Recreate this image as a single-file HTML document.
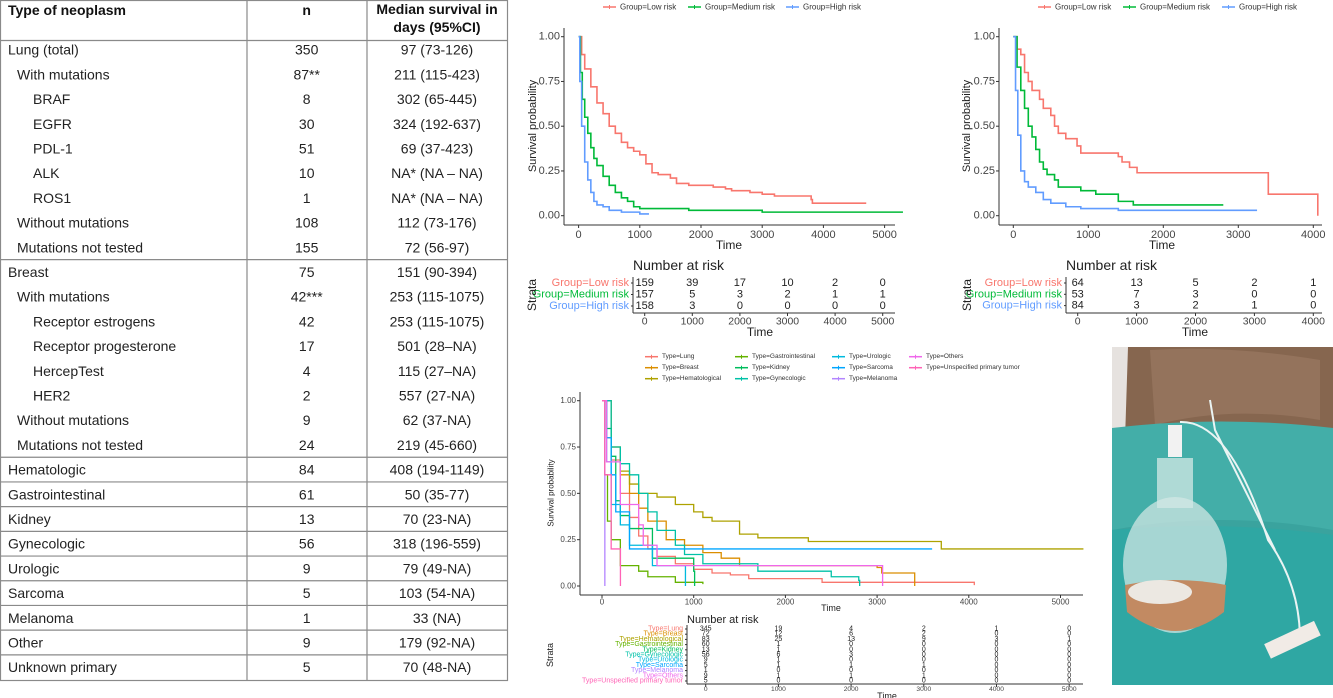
<!DOCTYPE html>
<html><head><meta charset="utf-8"><style>
html,body{margin:0;padding:0;background:#fff;}
svg{display:block;font-family:"Liberation Sans",Arial,sans-serif;}
</style></head><body>
<svg id="root" width="1333" height="698" viewBox="0 0 1333 698">
<g id="tbl"></g>
<g id="c1"></g>
<g id="c2"></g>
<g id="c3"></g>
<g id="photo">
  <rect x="1112" y="347" width="221" height="338" fill="#3aa39e"/>
  <rect x="1112" y="347" width="221" height="85" fill="#86664f"/>
  <path d="M1150 350 Q1230 345 1320 360 L1320 420 Q1230 405 1155 425 Z" fill="#94735c"/>
  <path d="M1112 347 L1128 347 L1125 440 L1112 445 Z" fill="#e6e2df"/>
  <path d="M1112 428 Q1220 415 1333 428 L1333 530 Q1220 510 1112 530 Z" fill="#43aea8"/>
  <path d="M1112 530 Q1220 520 1333 535 L1333 685 L1112 685 Z" fill="#2fa7a3"/>
  <ellipse cx="1175" cy="565" rx="52" ry="68" fill="#cfe6e3" opacity="0.75"/>
  <rect x="1157" y="458" width="36" height="50" fill="#d3e8e5" opacity="0.75"/>
  <rect x="1168" y="425" width="14" height="32" fill="#f2f2f2"/>
  <path d="M1125 585 Q1175 575 1226 585 L1224 612 Q1175 650 1127 612 Z" fill="#c28a62"/>
  <ellipse cx="1160" cy="592" rx="32" ry="12" fill="#ece8e2"/>
  <path d="M1180 422 Q1230 420 1268 540 Q1300 585 1300 640" stroke="#eaf4f3" stroke-width="2" fill="none"/>
  <path d="M1210 400 L1215 430 Q1240 480 1275 550" stroke="#eaf4f3" stroke-width="2" fill="none"/>
  <rect x="1265" y="632" width="55" height="16" fill="#f1ebe6" transform="rotate(-25 1292 640)"/>
</g>
</svg>
<script>
// ---------- TABLE DATA ----------
const tblNames=["Lung (total)","With mutations","BRAF","EGFR","PDL-1","ALK","ROS1","Without mutations","Mutations not tested","Breast","With mutations","Receptor estrogens","Receptor progesterone","HercepTest","HER2","Without mutations","Mutations not tested","Hematologic","Gastrointestinal","Kidney","Gynecologic","Urologic","Sarcoma","Melanoma","Other","Unknown primary"];
const tblLevels=[0,1,2,2,2,2,2,1,1,0,1,2,2,2,2,1,1,0,0,0,0,0,0,0,0,0];
const tblN=["350","87**","8","30","51","10","1","108","155","75","42***","42","17","4","2","9","24","84","61","13","56","9","5","1","9","5"];
const tblMed=["97 (73-126)","211 (115-423)","302 (65-445)","324 (192-637)","69 (37-423)","NA* (NA – NA)","NA* (NA – NA)","112 (73-176)","72 (56-97)","151 (90-394)","253 (115-1075)","253 (115-1075)","501 (28–NA)","115 (27–NA)","557 (27-NA)","62 (37-NA)","219 (45-660)","408 (194-1149)","50 (35-77)","70 (23-NA)","318 (196-559)","79 (49-NA)","103 (54-NA)","33 (NA)","179 (92-NA)","70 (48-NA)"];

// ---------- CHART 1 DATA ----------
const c1Groups=["Group=Low risk","Group=Medium risk","Group=High risk"];
const c1LowT=[0,50,100,200,300,400,500,600,700,800,900,1000,1100,1200,1300,1500,1600,1800,2200,2400,2500,2800,3000,3200,3800,3820,4700];
const c1LowS=[1,0.9,0.82,0.72,0.63,0.57,0.5,0.46,0.41,0.38,0.36,0.34,0.29,0.24,0.23,0.21,0.18,0.17,0.16,0.15,0.14,0.13,0.12,0.11,0.09,0.07,0.07];
const c1MedT=[0,30,60,100,150,200,250,300,400,500,600,700,800,900,1000,1800,3000,5300];
const c1MedS=[1,0.8,0.65,0.55,0.46,0.38,0.32,0.28,0.22,0.17,0.13,0.1,0.08,0.05,0.04,0.03,0.02,0.02];
const c1HighT=[0,20,50,100,150,200,250,300,400,500,700,1000,1150];
const c1HighS=[1,0.75,0.5,0.3,0.2,0.13,0.08,0.06,0.05,0.03,0.02,0.01,0.01];
const c1Ticks=[0,1000,2000,3000,4000,5000];
const c1RiskLow=[159,39,17,10,2,0];
const c1RiskMed=[157,5,3,2,1,1];
const c1RiskHigh=[158,3,0,0,0,0];

// ---------- CHART 2 DATA ----------
const c2LowT=[0,50,100,150,200,250,350,400,500,550,600,700,850,900,1400,1450,1550,1650,3400,4050,4060];
const c2LowS=[1,0.93,0.9,0.8,0.75,0.7,0.65,0.6,0.56,0.5,0.46,0.43,0.39,0.35,0.33,0.3,0.27,0.24,0.12,0.12,0];
const c2MedT=[0,50,100,150,200,250,300,350,400,450,550,600,900,1100,1400,1600,2800];
const c2MedS=[1,0.83,0.7,0.6,0.5,0.44,0.37,0.3,0.26,0.23,0.2,0.16,0.14,0.12,0.08,0.06,0.06];
const c2HighT=[0,30,60,100,150,200,300,400,500,700,900,1400,3250];
const c2HighS=[1,0.7,0.45,0.25,0.19,0.16,0.13,0.09,0.07,0.05,0.04,0.03,0.03];
const c2Ticks=[0,1000,2000,3000,4000];
const c2RiskLow=[64,13,5,2,1];
const c2RiskMed=[53,7,3,0,0];
const c2RiskHigh=[84,3,2,1,0];

// ---------- CHART 3 DATA ----------
const c3Types=["Type=Lung","Type=Breast","Type=Hematological","Type=Gastrointestinal","Type=Kidney","Type=Gynecologic","Type=Urologic","Type=Sarcoma","Type=Melanoma","Type=Others","Type=Unspecified primary tumor"];
const c3LungT=[0,50,100,200,300,400,500,600,800,1000,1200,1400,1600,2400,4050,4060];
const c3LungS=[1,0.8,0.68,0.5,0.37,0.27,0.2,0.16,0.12,0.09,0.07,0.06,0.04,0.02,0.02,0.005];
const c3BreastT=[0,100,200,300,400,500,700,900,1100,1300,1500,3000,3050,3400,3410];
const c3BreastS=[1,0.75,0.6,0.5,0.42,0.35,0.25,0.22,0.18,0.15,0.11,0.1,0.07,0.07,0];
const c3HemT=[0,100,200,300,400,600,800,1000,1100,1200,1500,1700,2250,3700,5250];
const c3HemS=[1,0.75,0.62,0.55,0.5,0.48,0.44,0.4,0.37,0.35,0.28,0.26,0.24,0.2,0.2];
const c3GastroT=[0,30,60,100,200,400,500,800,1100];
const c3GastroS=[1,0.6,0.35,0.25,0.11,0.08,0.05,0.02,0.01];
const c3KidneyT=[0,50,100,150,200,300,550,1000,1010];
const c3KidneyS=[1,0.85,0.7,0.46,0.38,0.31,0.15,0.08,0];
const c3GynT=[0,100,200,300,400,500,600,800,900,1100,1700,2500,2800,2810];
const c3GynS=[1,0.75,0.66,0.6,0.5,0.4,0.3,0.22,0.17,0.12,0.08,0.05,0.03,0];
const c3UroT=[0,50,100,200,300,550,900,910];
const c3UroS=[1,0.67,0.44,0.33,0.22,0.11,0.11,0];
const c3SarcT=[0,50,100,150,300,3600];
const c3SarcS=[1,0.8,0.6,0.4,0.2,0.2];
const c3MelT=[0,30,31];
const c3MelS=[1,1,0];
const c3OthT=[0,50,200,400,450,600,3050,3060];
const c3OthS=[1,0.67,0.44,0.33,0.22,0.11,0.11,0];
const c3UnspT=[0,30,100,200,201];
const c3UnspS=[1,0.6,0.2,0.2,0];
const c3Ticks=[0,1000,2000,3000,4000,5000];
const c3Risk=[[345,19,4,2,1,0],[72,12,6,2,0,0],[83,25,13,9,3,1],[60,1,0,0,0,0],[13,1,0,0,0,0],[56,6,3,0,0,0],[9,1,0,0,0,0],[5,1,1,1,0,0],[1,0,0,0,0,0],[9,1,1,1,0,0],[5,0,0,0,0,0]];

const NS="http://www.w3.org/2000/svg";
function el(tag,attrs,parent){const e=document.createElementNS(NS,tag);for(const k in attrs)e.setAttribute(k,attrs[k]);parent.appendChild(e);return e;}
function txt(s,x,y,size,parent,anchor,fill,weight){const t=el("text",{x:x,y:y,"font-size":size,"text-anchor":anchor||"start",fill:fill||"#222","dominant-baseline":"central"},parent);if(weight)t.setAttribute("font-weight",weight);t.textContent=s;return t;}

// ---------- TABLE ----------
(function(){
 const g=document.getElementById("tbl");
 const top=49.7, step=24.7, lc="#8a8a8a";
 const b=el("rect",{x:0.5,y:0.5,width:507,height:680,fill:"none",stroke:lc,"stroke-width":1.2},g);
 
 
 el("line",{x1:247,y1:0,x2:247,y2:680,stroke:lc,"stroke-width":1.2},g);
 el("line",{x1:367,y1:0,x2:367,y2:680,stroke:lc,"stroke-width":1.2},g);
 el("line",{x1:0,y1:40.5,x2:507,y2:40.5,stroke:lc,"stroke-width":1.2},g);
 let h=txt("Type of neoplasm",8,10,14,g,"start","#111","bold");
 
 
 h=txt("n",306.7,10,14,g,"middle","#111","bold");
 
 
 h=txt("Median survival in",437,9,14,g,"middle","#111","bold");
 
 
 txt("days (95%CI)",437,27,14,g,"middle","#111","bold");
 const indents=[8,17,33];
 const sepAfter=[8,16,17,18,19,20,21,22,23,24];
 for(let i=0;i<tblNames.length;i++){
  const y=top+i*step;
  const t=txt(tblNames[i],indents[tblLevels[i]],y,14,g);
  
  
  const n=txt(tblN[i],306.7,y,14,g,"middle");
  
  
  const m=txt(tblMed[i],437,y,14,g,"middle");
  
  
  if(sepAfter.indexOf(i)>=0){const yy=y+step/2;el("line",{x1:0,y1:yy,x2:507,y2:yy,stroke:lc,"stroke-width":1.2},g);}
 }
})();

// ---------- KM generic ----------
function stepPath(T,S,sx,sy){let d="M"+sx(T[0])+" "+sy(S[0]);for(let i=1;i<T.length;i++){d+=" H"+sx(T[i])+" V"+sy(S[i]);}return d;}

function drawKM(g,c,series,names,colors,ticks,risks){
 const sx=t=>c.x0+t*c.px, sy=s=>c.y0-s*(c.y0-c.y1);
 el("line",{x1:c.ax,y1:c.axTop,x2:c.ax,y2:c.axB,stroke:"#333","stroke-width":1},g);
 el("line",{x1:c.ax,y1:c.axB,x2:c.right,y2:c.axB,stroke:"#333","stroke-width":1},g);
 [0,0.25,0.5,0.75,1].forEach(v=>{
  el("line",{x1:c.ax-3,y1:sy(v),x2:c.ax,y2:sy(v),stroke:"#333"},g);
  const t=txt(v.toFixed(2),c.ax-4,sy(v),c.fs,g,"end","#444");
  
  
 });
 ticks.forEach(v=>{
  el("line",{x1:sx(v),y1:c.axB,x2:sx(v),y2:c.axB+3,stroke:"#333"},g);
  const t=txt(String(v),sx(v),c.axB+c.fs*0.9,c.fs,g,"middle","#444");
  
  
 });
 let t=txt("Time",c.timeX,c.timeY,c.fs+1,g,"middle","#222");
 
 
 t=txt("Survival probability",0,0,c.fs,g,"middle","#222");
 t.setAttribute("transform","translate("+c.ytX+","+c.ytY+") rotate(-90)");
 
 
 series.forEach((s,i)=>{
  const p=el("path",{d:stepPath(s[0],s[1],sx,sy),fill:"none",stroke:colors[i],"stroke-width":c.lw},g);
  
  
 });
 const rx=t=>c.rx0+t*c.rpx;
 t=txt("Number at risk",c.rax,c.rtY,c.rtfs,g,"start","#222");
 
 
 el("line",{x1:c.rax,y1:c.rTop,x2:c.rax,y2:c.rB,stroke:"#333"},g);
 el("line",{x1:c.rax,y1:c.rB,x2:c.right,y2:c.rB,stroke:"#333"},g);
 risks.forEach((row,i)=>{
  const y=c.rRow0+i*c.rStep;
  const l=txt(names[i],c.rax-4,y,c.rfs,g,"end",colors[i]);
  
  
  el("line",{x1:c.rax-2,y1:y,x2:c.rax,y2:y,stroke:"#333"},g);
  row.forEach((v,j)=>{
   const n=txt(String(v),rx(ticks[j]),y,c.rnfs,g,"middle","#222");
   
   
  });
 });
 ticks.forEach(v=>{
  el("line",{x1:rx(v),y1:c.rB,x2:rx(v),y2:c.rB+3,stroke:"#333"},g);
  const q=txt(String(v),rx(v),c.rB+c.rnfs*0.8,c.rnfs*0.95,g,"middle","#444");
  
  
 });
 t=txt("Time",c.rTimeX,c.rTimeY,c.fs+1,g,"middle","#222");
 
 
 t=txt("Strata",0,0,c.fs+1,g,"middle","#222");
 t.setAttribute("transform","translate("+c.stX+","+c.stY+") rotate(-90)");
 
 
}
function legend(g,items,colors,pos,fs){
 items.forEach((n,i)=>{
  const p=pos[i];
  el("line",{x1:p[0],y1:p[1],x2:p[0]+13,y2:p[1],stroke:colors[i],"stroke-width":1.5},g);
  el("line",{x1:p[0]+6.5,y1:p[1]-2,x2:p[0]+6.5,y2:p[1]+2,stroke:colors[i],"stroke-width":1},g);
  const t=txt(n,p[0]+17,p[1],fs,g,"start","#333");
  
  
 });
}
const col3=["#F8766D","#00BA38","#619CFF"];

// chart 1
(function(){
 const g=document.getElementById("c1");
 const c={x0:578.6,px:0.0612,y0:215.7,y1:36.7,ax:564,axTop:28,axB:225,right:895,fs:11,lw:1.6,
  timeX:729,timeY:245,ytX:533,ytY:126,
  rx0:644.7,rpx:0.0476,rax:633,rtY:265,rtfs:14,rTop:277,rB:313,rRow0:283,rStep:11.5,rfs:11,rnfs:11,
  rTimeX:760,rTimeY:332,stX:532,stY:295};
 drawKM(g,c,[[c1LowT,c1LowS],[c1MedT,c1MedS],[c1HighT,c1HighS]],c1Groups,col3,c1Ticks,[c1RiskLow,c1RiskMed,c1RiskHigh]);
 legend(g,c1Groups,col3,[[603,7],[688,7],[786,7]],8);
})();
// chart 2
(function(){
 const g=document.getElementById("c2");
 const c={x0:1013.3,px:0.075,y0:215.7,y1:36.7,ax:999,axTop:28,axB:225,right:1322,fs:11,lw:1.6,
  timeX:1162,timeY:245,ytX:967,ytY:126,
  rx0:1077.7,rpx:0.0589,rax:1066,rtY:265,rtfs:14,rTop:277,rB:313,rRow0:283,rStep:11.3,rfs:11,rnfs:11,
  rTimeX:1195,rTimeY:332,stX:967,stY:295};
 drawKM(g,c,[[c2LowT,c2LowS],[c2MedT,c2MedS],[c2HighT,c2HighS]],c1Groups,col3,c2Ticks,[c2RiskLow,c2RiskMed,c2RiskHigh]);
 legend(g,c1Groups,col3,[[1038,7],[1123,7],[1222,7]],8);
})();
// chart 3
(function(){
 const g=document.getElementById("c3");
 const cols=["#F8766D","#DB8E00","#AEA200","#64B200","#00BD5C","#00C1A7","#00BADE","#00A6FF","#B385FF","#EF67EB","#FF63B6"];
 const c={x0:602,px:0.0917,y0:586,y1:400.7,ax:580,axTop:392,axB:595,right:1083,fs:8,lw:1.3,
  timeX:831,timeY:608,ytX:551,ytY:493,
  rx0:705.7,rpx:0.0727,rax:687,rtY:620,rtfs:11,rTop:625,rB:684,rRow0:629,rStep:5.2,rfs:7,rnfs:7,
  rTimeX:887,rTimeY:696,stX:550,stY:655};
 drawKM(g,c,[[c3LungT,c3LungS],[c3BreastT,c3BreastS],[c3HemT,c3HemS],[c3GastroT,c3GastroS],[c3KidneyT,c3KidneyS],[c3GynT,c3GynS],[c3UroT,c3UroS],[c3SarcT,c3SarcS],[c3MelT,c3MelS],[c3OthT,c3OthS],[c3UnspT,c3UnspS]],c3Types,cols,c3Ticks,c3Risk);
 const pos=[[645,356.7],[645,367.7],[645,378.7],[735,356.7],[735,367.7],[735,378.7],[832,356.7],[832,367.7],[832,378.7],[909,356.7],[909,367.7]];
 legend(g,c3Types,cols,pos,6.5);
})();
</script>
</body></html>
